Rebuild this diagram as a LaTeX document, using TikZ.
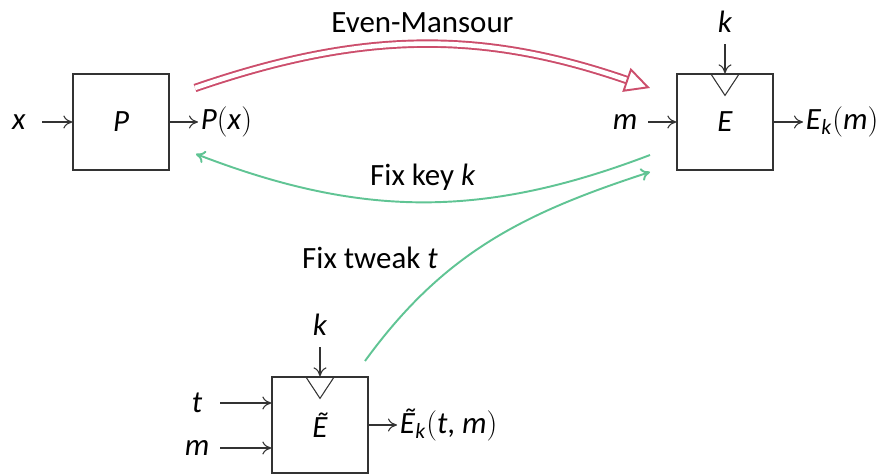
\documentclass[tikz,border=0pt]{standalone}
\usepackage{fontspec}
\setmainfont{Carlito}
\usepackage{tikz}
\usetikzlibrary{arrows.meta}

\definecolor{emred}{RGB}{204,78,108}
\definecolor{fixgreen}{RGB}{96,196,148}

\newcommand{\mv}[1]{\textit{#1}}

\begin{document}
\begin{tikzpicture}[
  >={To[length=1.8mm,width=2.6mm]},
  font=\fontsize{17.6}{20}\selectfont,
  cipher/.style={draw=black!80, line width=0.7pt, minimum width=1.92cm,
                 minimum height=1.92cm, inner sep=0pt},
  inlbl/.style ={inner sep=1.5pt, minimum width=0.92cm},
  keylbl/.style={inner sep=1.5pt, minimum height=0.88cm},
  outlbl/.style={inner sep=1.5pt, anchor=west},
  wire/.style  ={->, draw=black!80, line width=0.6pt},
  emarrow/.style={draw=emred, double=white, double distance=2.6pt, line width=1.1pt,
                  -{Triangle[open, length=5mm, width=5mm]}},
  fixarrow/.style={->, draw=fixgreen, line width=1.1pt}
]
    \useasboundingbox (0,0) rectangle (17.64,9.5);

    % Permutation P (top left)
    \node[cipher] (P)  at (2.42,7.06) {\mv{P}};
    \node[inlbl]  (x)  at (0.38,7.06) {\mv{x}};
    \node[outlbl] (Px) at (3.96,7.06) {\mv{P}$($\mv{x}$)$};

    % Block cipher E (top right)
    \node[cipher] (E)  at (14.5,7.06) {\mv{E}};
    \node[inlbl]  (m)  at (12.5,7.06) {\mv{m}};
    \node[keylbl] (k)  at (14.5,9.06) {\mv{k}};
    \node[outlbl] (Em) at (16.06,7.06) {\mv{E}\textsubscript{\mv{k}}$($\mv{m}$)$};

    % Tweakable block cipher (bottom)
    \node[cipher] (Et)  at (6.4,1.0) {\mv{Ẽ}};
    \node[inlbl]  (t)   at (3.94,1.44) {\mv{t}};
    \node[inlbl]  (tm)  at (3.94,0.54) {\mv{m}};
    \node[keylbl] (tk)  at (6.4,3.0) {\mv{k}};
    \node[outlbl] (Etm) at (7.94,1.0) {\mv{Ẽ}\textsubscript{\mv{k}}$($\mv{t}, \mv{m}$)$};

    % wires
    \draw[wire] (x) -- (P);
    \draw[wire] (P) -- (Px);
    \draw[wire] (m) -- (E);
    \draw[wire] (k) -- (E);
    \draw[wire] (E) -- (Em);
    \draw[wire] (t) -- (t -| Et.west);
    \draw[wire] (tm) -- (tm -| Et.west);
    \draw[wire] (tk) -- (Et);
    \draw[wire] (Et) -- (Etm);

    % key inputs enter through a small wedge
    \foreach \b in {E,Et}
      \draw[black!80, line width=0.6pt] ([xshift=-0.29cm]\b.north) --
        ([yshift=-0.44cm]\b.north) -- ([xshift=0.29cm]\b.north);

    % end points of the curved relations
    \coordinate (em-a) at (3.9,7.74);
    \coordinate (em-b) at (13.0,7.74);
    \coordinate (fk-a) at (13.0,6.4);
    \coordinate (fk-b) at (3.92,6.42);
    \coordinate (ft-a) at (7.3,2.28);
    \coordinate (ft-b) at (13.0,6.06);

    \draw[emarrow] (em-a) to[bend left=19]
      node[midway, above=3pt, text=black] {Even-Mansour} (em-b);
    \draw[fixarrow] (fk-a) to[bend left=21]
      node[midway, above=3pt, text=black] {Fix key \mv{k}} (fk-b);
    \draw[fixarrow] (ft-a) to[out=54, in=198] (ft-b);
    \node (ftlbl) at (7.4,4.34) {Fix tweak \mv{t}};
\end{tikzpicture}
\end{document}
